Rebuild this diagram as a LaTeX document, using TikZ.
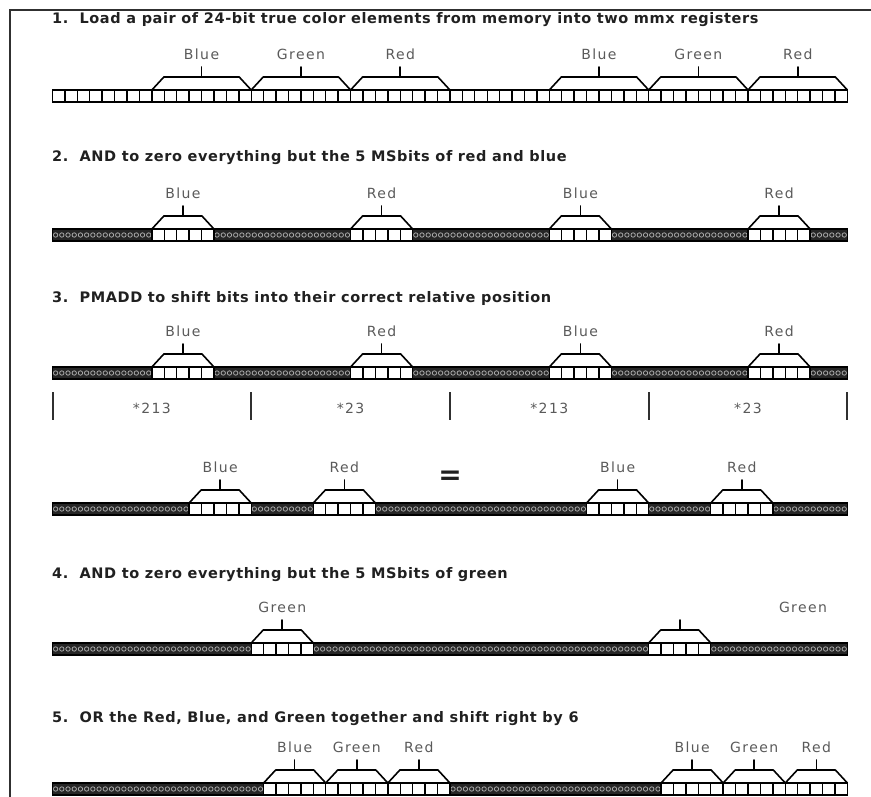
\documentclass[tikz,border=0pt]{standalone}
\usepackage{fontspec}
\setmainfont{DejaVu Sans}
\newfontfamily\titlefont[LetterSpace=4]{DejaVu Sans}
\newfontfamily\labelfont[LetterSpace=10]{DejaVu Sans}
\definecolor{framegray}{HTML}{303030}
\definecolor{labelgray}{HTML}{5A5A5A}
\definecolor{titleink}{HTML}{202020}
\definecolor{maskdark}{HTML}{262626}
\definecolor{masklink}{HTML}{A8A8A8}

\tikzset{
  cellline/.style={draw=black, line width=1.4pt},
  bracketline/.style={draw=black, line width=1.6pt, line cap=round, line join=round},
  fieldlabel/.style={text=labelgray, font=\labelfont\fontsize{14}{16}\selectfont, inner sep=0pt},
  steptitle/.style={anchor=base west, text=titleink, font=\titlefont\bfseries\fontsize{14.5}{17}\selectfont, inner sep=0pt},
  factorlabel/.style={text=labelgray, font=\labelfont\fontsize{14}{16}\selectfont, inner sep=0pt},
  chainlink/.style={draw=masklink, line width=0.8pt},
}

% register rows: 64 cells from x=52.5, cell width 12.42, bar height 12
\newcommand{\plainbar}[1]{%
  \fill[white] (52.5,-#1) rectangle (847.5,-#1-12);
  \foreach \k in {1,...,63} \draw[cellline] ({52.5+\k*12.42},-#1) -- ++(0,-12);
  \draw[cellline] (52.5,-#1) rectangle (847.5,-#1-12);
}
\newcommand{\maskbar}[1]{%
  \fill[maskdark] (52.5,-#1) rectangle (847.5,-#1-12);
  \foreach \k in {0,...,127} \draw[chainlink] ({55.6+\k*6.21},-#1-6) circle (2.2);
  \draw[cellline] (52.5,-#1) rectangle (847.5,-#1-12);
}
% \field{first cell}{last cell}{bar top}{label}{name}
\newcommand{\field}[5]{%
  \pgfmathsetmacro\xa{52.5+#1*12.42}
  \pgfmathsetmacro\xb{52.5+(#2+1)*12.42}
  \pgfmathsetmacro\xc{(\xa+\xb)/2}
  \fill[white] (\xa,-#3) rectangle (\xb,-#3-12);
  \foreach \k in {#1,...,#2} \draw[cellline] ({52.5+\k*12.42},-#3) -- ++(0,-12);
  \draw[cellline] (\xa,-#3) rectangle (\xb,-#3-12);
  \draw[bracketline] (\xa,-#3) -- (\xa+12,-#3+13) -- (\xb-12,-#3+13) -- (\xb,-#3);
  \draw[bracketline] (\xc,-#3+13) -- (\xc,-#3+23);
  \node[fieldlabel] (#5) at (\xc,-#3+36) {#4};
}

\begin{document}
\begin{tikzpicture}[x=1pt, y=1pt]
  \useasboundingbox (0,0) rectangle (871,-797);
  \draw[framegray, line width=2.5pt] (10,-797) -- (10,-10) -- (871,-10);

  % 1. load
  \node[steptitle] (title1) at (52,-24) {1.~~Load a pair of 24-bit true color elements from memory into two mmx registers};
  \plainbar{90}
  \field{8}{15}{90}{Blue}{r1blueA}
  \field{16}{23}{90}{Green}{r1greenA}
  \field{24}{31}{90}{Red}{r1redA}
  \field{40}{47}{90}{Blue}{r1blueB}
  \field{48}{55}{90}{Green}{r1greenB}
  \field{56}{63}{90}{Red}{r1redB}

  % 2. mask red and blue
  \node[steptitle] (title2) at (52,-162) {2.~~AND to zero everything but the 5 MSbits of red and blue};
  \maskbar{229}
  \field{8}{12}{229}{Blue}{r2blueA}
  \field{24}{28}{229}{Red}{r2redA}
  \field{40}{44}{229}{Blue}{r2blueB}
  \field{56}{60}{229}{Red}{r2redB}

  % 3. pmadd
  \node[steptitle] (title3) at (52,-302) {3.~~PMADD to shift bits into their correct relative position};
  \maskbar{367}
  \field{8}{12}{367}{Blue}{r3blueA}
  \field{24}{28}{367}{Red}{r3redA}
  \field{40}{44}{367}{Blue}{r3blueB}
  \field{56}{60}{367}{Red}{r3redB}
  \foreach \k in {0,16,32,48,64}
    \draw[framegray, line width=2pt] ({52.5+\k*12.42},-392) -- ({52.5+\k*12.42},-420);
  \node[factorlabel] (mulA) at (151.9,-408) {*213};
  \node[factorlabel] (mulB) at (350.6,-408) {*23};
  \node[factorlabel] (mulC) at (549.3,-408) {*213};
  \node[factorlabel] (mulD) at (748.0,-408) {*23};
  \node[text=titleink, font=\bfseries\fontsize{28}{30}\selectfont, inner sep=0pt] (equals) at (450,-478) {=};

  \maskbar{503}
  \field{11}{15}{503}{Blue}{r4blueA}
  \field{21}{25}{503}{Red}{r4redA}
  \field{43}{47}{503}{Blue}{r4blueB}
  \field{53}{57}{503}{Red}{r4redB}

  % 4. mask green
  \node[steptitle] (title4) at (52,-578) {4.~~AND to zero everything but the 5 MSbits of green};
  \maskbar{643}
  \field{16}{20}{643}{Green}{r5greenA}
  \field{48}{52}{643}{}{r5greenB}
  \node[fieldlabel] (r5greenC) at (803,-607) {Green};

  % 5. or and shift
  \node[steptitle] (title5) at (52,-722) {5.~~OR the Red, Blue, and Green together and shift right by 6};
  \maskbar{783}
  \field{17}{21}{783}{Blue}{r6blueA}
  \field{22}{26}{783}{Green}{r6greenA}
  \field{27}{31}{783}{Red}{r6redA}
  \field{49}{53}{783}{Blue}{r6blueB}
  \field{54}{58}{783}{Green}{r6greenB}
  \field{59}{63}{783}{Red}{r6redB}
\end{tikzpicture}
\end{document}
